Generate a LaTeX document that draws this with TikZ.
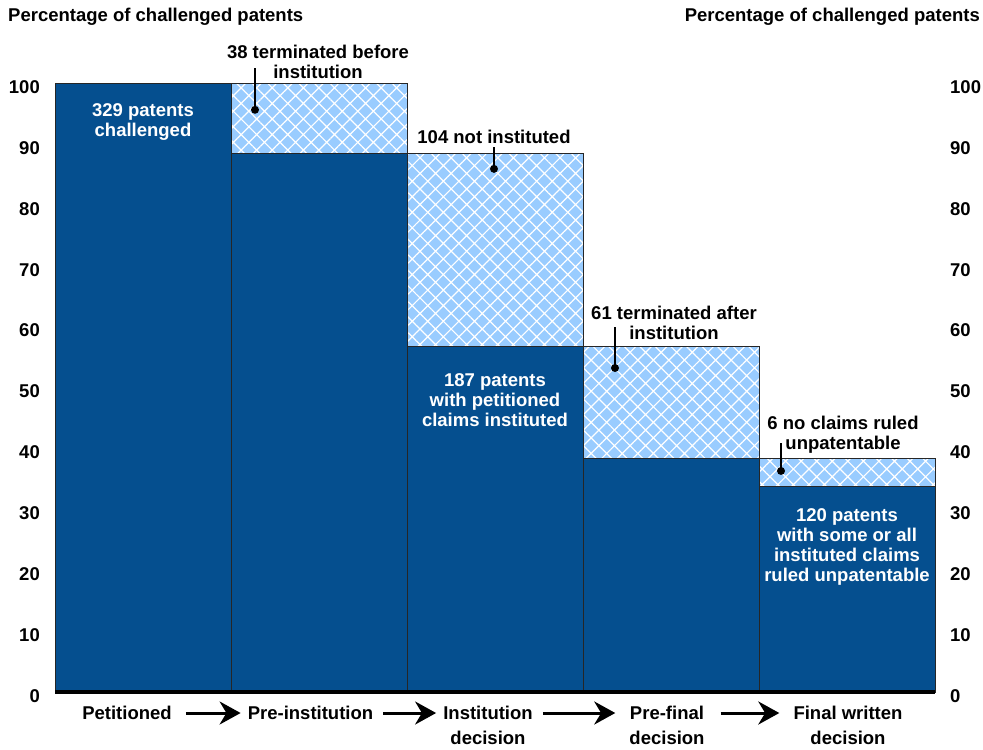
\documentclass[tikz,border=0pt]{standalone}
\usepackage{fontspec}
\setmainfont{Liberation Sans}
\usetikzlibrary{arrows.meta,patterns.meta}
\definecolor{barblue}{RGB}{5,79,143}
\definecolor{hatchblue}{RGB}{153,204,255}

\begin{document}
\begin{tikzpicture}[
  x=1pt, y=6.09pt,
  every node/.style={font=\fontsize{18.5}{20}\selectfont\bfseries},
  kept/.style={fill=barblue, draw=black!85, line width=0.9pt},
  lost/.style={preaction={fill=hatchblue}, pattern={Hatch[angle=45,distance=11pt,line width=1.2pt]}, pattern color=white, draw=black!85, line width=0.9pt},
  inside/.style={text=white, align=center},
  note/.style={align=center},
  axislabel/.style={inner sep=0pt, yshift=-4pt},
  dot/.style={circle, fill=black, inner sep=0pt, minimum size=8pt},
  leader/.style={line width=1.2pt},
  stage/.style={align=center, anchor=north, inner sep=0pt, font=\fontsize{18.5}{25}\selectfont\bfseries},
  flow/.style={line width=3pt, -{Stealth[length=21pt,width=23pt]}},
]
\useasboundingbox (-55,-9.36) rectangle (928,113.63);

% stacked bars, one per stage
\draw[kept] (0,0) rectangle (176,100);
\draw[kept] (176,0) rectangle (352,88.5);
\draw[lost] (176,88.5) rectangle (352,100);
\draw[kept] (352,0) rectangle (528,56.8);
\draw[lost] (352,56.8) rectangle (528,88.5);
\draw[kept] (528,0) rectangle (704,38.4);
\draw[lost] (528,38.4) rectangle (704,56.8);
\draw[kept] (704,0) rectangle (880,33.8);
\draw[lost] (704,33.8) rectangle (880,38.4);
\draw[line width=4pt] (0,0) -- (880,0);

% axis titles
\node[anchor=west, inner sep=0pt] (ytitleL) at (-47,110.8) {Percentage of challenged patents};
\node[anchor=east, inner sep=0pt] (ytitleR) at (925,110.8) {Percentage of challenged patents};

% left scale
\node[axislabel, anchor=east] (yl0) at (-15,0) {0};
\node[axislabel, anchor=east] (yl10) at (-15,10) {10};
\node[axislabel, anchor=east] (yl20) at (-15,20) {20};
\node[axislabel, anchor=east] (yl30) at (-15,30) {30};
\node[axislabel, anchor=east] (yl40) at (-15,40) {40};
\node[axislabel, anchor=east] (yl50) at (-15,50) {50};
\node[axislabel, anchor=east] (yl60) at (-15,60) {60};
\node[axislabel, anchor=east] (yl70) at (-15,70) {70};
\node[axislabel, anchor=east] (yl80) at (-15,80) {80};
\node[axislabel, anchor=east] (yl90) at (-15,90) {90};
\node[axislabel, anchor=east] (yl100) at (-15,100) {100};

% right scale
\node[axislabel, anchor=west] (yr0) at (895,0) {0};
\node[axislabel, anchor=west] (yr10) at (895,10) {10};
\node[axislabel, anchor=west] (yr20) at (895,20) {20};
\node[axislabel, anchor=west] (yr30) at (895,30) {30};
\node[axislabel, anchor=west] (yr40) at (895,40) {40};
\node[axislabel, anchor=west] (yr50) at (895,50) {50};
\node[axislabel, anchor=west] (yr60) at (895,60) {60};
\node[axislabel, anchor=west] (yr70) at (895,70) {70};
\node[axislabel, anchor=west] (yr80) at (895,80) {80};
\node[axislabel, anchor=west] (yr90) at (895,90) {90};
\node[axislabel, anchor=west] (yr100) at (895,100) {100};

% counts inside the bars
\node[inside] (in329) at (88,93.6) {329 patents\\challenged};
\node[inside] (in187) at (440,48.0) {187 patents\\with petitioned\\claims instituted};
\node[inside] (in120) at (792,23.8) {120 patents\\with some or all\\instituted claims\\ruled unpatentable};

% call-outs for the hatched parts
\node[note] (out38) at (263,103.5) {38 terminated before\\institution};
\node[note] (out104) at (439,91.1) {104 not instituted};
\node[note] (out61) at (619,60.6) {61 terminated after\\institution};
\node[note] (out6) at (788,42.3) {6 no claims ruled\\unpatentable};

\node[dot] (d38) at (200,95.6) {};
\node[dot] (d104) at (439,85.9) {};
\node[dot] (d61) at (560,53.2) {};
\node[dot] (d6) at (726,36.3) {};
\coordinate (l38) at (200,102.5);
\coordinate (l104) at (439,89.5);
\coordinate (l61) at (560,59.9);
\coordinate (l6) at (726,40.9);
\draw[leader] (d38.center) -- (l38);
\draw[leader] (d104.center) -- (l104);
\draw[leader] (d61.center) -- (l61);
\draw[leader] (d6.center) -- (l6);

% stages along the bottom
\node[stage] (petitioned) at (72,-2.3) {Petitioned};
\node[stage] (preinst) at (255.5,-2.3) {Pre-institution};
\node[stage] (instdec) at (433,-2.3) {Institution\\decision};
\node[stage] (prefinal) at (612,-2.3) {Pre-final\\decision};
\node[stage] (finaldec) at (793,-2.3) {Final written\\decision};
\draw[flow, shorten <=14pt, shorten >=7pt] ([yshift=-7pt]petitioned.north east) -- ([yshift=-7pt]preinst.north west);
\draw[flow, shorten <=10pt, shorten >=7pt] ([yshift=-7pt]preinst.north east) -- ([yshift=-7pt]instdec.north west);
\draw[flow, shorten <=10pt, shorten >=14pt] ([yshift=-7pt]instdec.north east) -- ([yshift=-7pt]prefinal.north west);
\draw[flow, shorten <=16pt, shorten >=14pt] ([yshift=-7pt]prefinal.north east) -- ([yshift=-7pt]finaldec.north west);
\end{tikzpicture}
\end{document}
